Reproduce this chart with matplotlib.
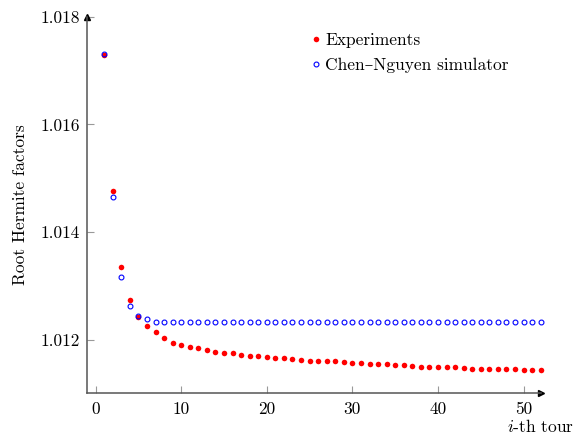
import numpy as np
import matplotlib
matplotlib.use("Agg")
import matplotlib.pyplot as plt

FS = 12.5
plt.rcParams.update({
    "font.family": ["cmr10", "DejaVu Serif"],
    "mathtext.fontset": "cm",
    "axes.formatter.use_mathtext": True,
    "font.size": FS,
})

# --- data: root Hermite factor per tour ---
tours = np.arange(1, 53)
experiments = [
    1.01729, 1.01477, 1.01336, 1.01275, 1.01242, 1.01225, 1.01214, 1.01204,
    1.01194, 1.01191, 1.01186, 1.01185, 1.01181, 1.01178, 1.01176, 1.01175,
    1.01173, 1.01171, 1.01170, 1.01168, 1.01167, 1.01166, 1.01164, 1.01163,
    1.01161, 1.01161, 1.01161, 1.01161, 1.01159, 1.01158, 1.01158, 1.01156,
    1.01155, 1.01155, 1.01154, 1.01154, 1.01151, 1.01150, 1.01150, 1.01149,
    1.01149, 1.01149, 1.01148, 1.01147, 1.01147, 1.01147, 1.01146, 1.01146,
    1.01146, 1.01145, 1.01145, 1.01144,
]
simulator = [1.01731, 1.01465, 1.01317, 1.01263, 1.01244, 1.01238] + [1.01234] * 46

xticks = [0, 10, 20, 30, 40, 50]
yticks = [1.012, 1.014, 1.016, 1.018]

fig = plt.figure(figsize=(5.79, 4.34), dpi=100)
ax = fig.add_axes([0.1497, 0.0938, 0.7842, 0.8677])

ax.plot(tours, experiments, "o", color="red", ms=4.0, mew=0, label="Experiments",
        clip_on=False, zorder=3)
ax.plot(tours, simulator, "o", mfc="none", mec="blue", ms=3.5, mew=0.8,
        label="Chen\u2013Nguyen simulator", clip_on=False, zorder=4)

ax.set_xlim(-1.04, 52)
ax.set_ylim(1.01101, 1.018)
ax.set_xticks(xticks)
ax.set_xticklabels([str(t) for t in xticks])
ax.set_yticks(yticks)
ax.set_yticklabels([f"{t:.3f}" for t in yticks])

# axis lines=left look: only left/bottom spines, arrows at the ends
for s in ("top", "right"):
    ax.spines[s].set_visible(False)
for s in ("left", "bottom"):
    ax.spines[s].set_color("#555555")
    ax.spines[s].set_linewidth(1.1)
ax.tick_params(direction="in", length=5, width=0.8, color="#999999", labelsize=FS)
ax.tick_params(axis="x", pad=6)
ax.tick_params(axis="y", pad=5)
ax.plot(1, 0, ">", color="black", ms=4, transform=ax.transAxes, clip_on=False)
ax.plot(0, 1, "^", color="black", ms=4, transform=ax.transAxes, clip_on=False)

ax.set_ylabel("Root Hermite factors", fontsize=FS, labelpad=9)
ax.text(1.0, -0.103, "$i$-th tour", transform=ax.transAxes, ha="center",
        va="baseline", fontsize=FS)

ax.legend(loc="upper left", bbox_to_anchor=(0.47, 0.99), frameon=False,
          handlelength=0.4, handletextpad=0.35, labelspacing=0.55, borderaxespad=0.3,
          fontsize=FS)

fig.savefig("out.png", dpi=100)
